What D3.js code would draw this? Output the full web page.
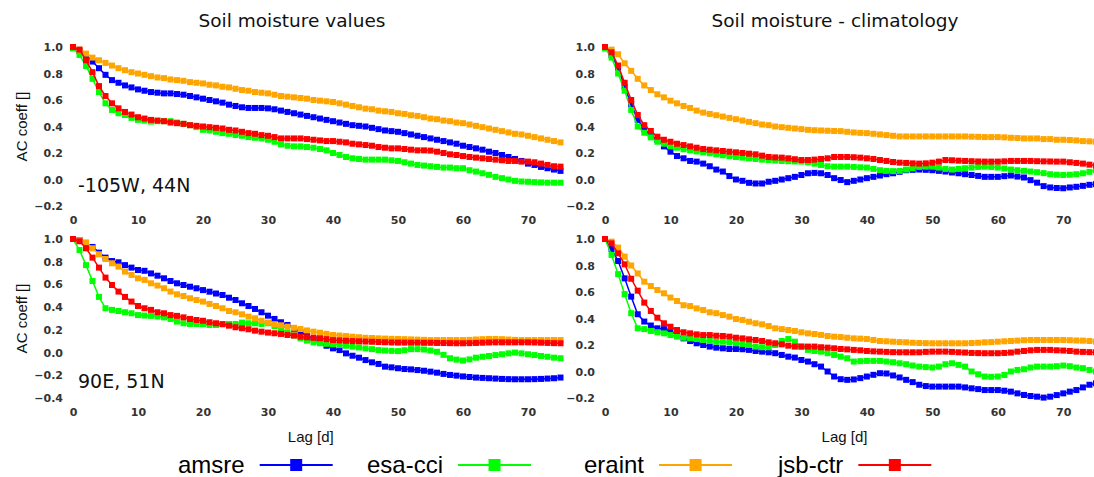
<!DOCTYPE html>
<html><head><meta charset="utf-8">
<script src="https://cdn.jsdelivr.net/npm/d3@7"></script>
<style>body{margin:0;background:#fff}svg{display:block}</style>
</head><body>
<script>
// ---------- DATA ----------
const lags = d3.range(0, 76);
const seriesNames = ["amsre", "esa-cci", "eraint", "jsb-ctr"];
const seriesColors = ["#0000ff", "#00ff00", "#ffa500", "#ff0000"];
const xTicks = [0, 10, 20, 30, 40, 50, 60, 70];
const yTicksTop = [-0.2, 0, 0.2, 0.4, 0.6, 0.8, 1.0];
const yTicksBL = [-0.4, -0.2, 0, 0.2, 0.4, 0.6, 0.8, 1.0];
const colTitles = ["Soil moisture values", "Soil moisture - climatology"];
const rowLabels = ["-105W, 44N", "90E, 51N"];

// Top-left: values, -105W 44N
const tl_amsre = [1.00,0.97,0.94,0.89,0.84,0.79,0.75,0.73,0.71,0.695,
0.68,0.67,0.66,0.655,0.65,0.65,0.645,0.64,0.63,0.62,
0.61,0.60,0.59,0.58,0.565,0.555,0.545,0.54,0.54,0.54,
0.537,0.53,0.52,0.51,0.50,0.49,0.48,0.47,0.46,0.45,
0.44,0.43,0.42,0.41,0.405,0.40,0.39,0.38,0.37,0.365,
0.36,0.35,0.34,0.33,0.32,0.31,0.30,0.29,0.28,0.27,
0.255,0.245,0.235,0.225,0.21,0.20,0.185,0.17,0.155,0.14,
0.12,0.11,0.095,0.085,0.075,0.065];
const tl_esacci = [0.99,0.94,0.857,0.76,0.66,0.575,0.525,0.50,0.487,0.465,
0.45,0.445,0.437,0.44,0.44,0.44,0.43,0.42,0.41,0.395,
0.375,0.37,0.36,0.35,0.345,0.336,0.33,0.32,0.315,0.31,
0.30,0.285,0.265,0.255,0.25,0.25,0.245,0.24,0.23,0.22,
0.20,0.185,0.17,0.16,0.155,0.15,0.15,0.15,0.15,0.145,
0.14,0.13,0.12,0.11,0.105,0.10,0.095,0.09,0.09,0.085,
0.085,0.07,0.06,0.047,0.035,0.02,0.01,0.0,-0.01,-0.015,
-0.017,-0.02,-0.022,-0.024,-0.024,-0.024];
const tl_eraint = [1.00,0.98,0.95,0.92,0.90,0.88,0.86,0.84,0.825,0.81,
0.80,0.79,0.78,0.77,0.765,0.755,0.75,0.745,0.735,0.73,
0.725,0.715,0.71,0.70,0.695,0.685,0.675,0.67,0.66,0.655,
0.65,0.64,0.63,0.625,0.62,0.615,0.61,0.60,0.595,0.59,
0.585,0.575,0.565,0.555,0.545,0.535,0.53,0.52,0.515,0.51,
0.50,0.495,0.485,0.48,0.47,0.46,0.455,0.445,0.44,0.43,
0.425,0.415,0.405,0.395,0.385,0.375,0.365,0.355,0.345,0.34,
0.33,0.32,0.31,0.30,0.29,0.28];
const tl_jsbctr = [1.00,0.98,0.90,0.81,0.705,0.63,0.575,0.537,0.51,0.49,
0.47,0.46,0.45,0.445,0.44,0.43,0.425,0.42,0.41,0.405,
0.40,0.395,0.39,0.385,0.375,0.37,0.36,0.35,0.345,0.335,
0.33,0.32,0.31,0.31,0.31,0.31,0.305,0.30,0.295,0.29,
0.29,0.285,0.28,0.27,0.265,0.26,0.255,0.245,0.24,0.235,
0.235,0.23,0.225,0.22,0.22,0.218,0.21,0.20,0.19,0.185,
0.177,0.17,0.165,0.16,0.155,0.15,0.145,0.14,0.14,0.135,
0.135,0.13,0.12,0.11,0.10,0.097];

// Top-right: climatology anomalies, -105W 44N
const tr_amsre = [1.00,0.94,0.845,0.70,0.57,0.45,0.38,0.33,0.30,0.25,
0.21,0.177,0.16,0.14,0.135,0.12,0.10,0.075,0.06,0.026,
0.00,-0.01,-0.025,-0.03,-0.03,-0.017,-0.01,0.0,0.01,0.02,
0.034,0.047,0.05,0.047,0.034,0.01,-0.004,-0.02,-0.01,0.0,
0.01,0.02,0.03,0.04,0.047,0.058,0.07,0.073,0.075,0.073,
0.07,0.065,0.06,0.053,0.047,0.04,0.034,0.027,0.02,0.02,
0.02,0.025,0.03,0.022,0.015,-0.005,-0.024,-0.05,-0.06,-0.064,
-0.066,-0.06,-0.055,-0.048,-0.04,-0.035];
const tr_esacci = [0.99,0.92,0.80,0.67,0.525,0.40,0.353,0.318,0.285,0.27,
0.25,0.24,0.228,0.22,0.212,0.205,0.198,0.19,0.183,0.176,
0.17,0.165,0.16,0.155,0.15,0.147,0.143,0.14,0.138,0.136,
0.135,0.13,0.12,0.11,0.10,0.097,0.097,0.097,0.095,0.092,
0.09,0.08,0.07,0.065,0.063,0.065,0.075,0.085,0.095,0.097,
0.097,0.09,0.08,0.075,0.08,0.085,0.09,0.095,0.097,0.095,
0.09,0.083,0.075,0.07,0.065,0.06,0.055,0.048,0.04,0.036,
0.034,0.036,0.04,0.047,0.058,0.07];
const tr_eraint = [1.00,0.98,0.945,0.877,0.82,0.76,0.71,0.675,0.643,0.62,
0.595,0.575,0.555,0.54,0.52,0.505,0.495,0.485,0.475,0.465,
0.455,0.445,0.435,0.425,0.415,0.41,0.40,0.395,0.39,0.385,
0.38,0.375,0.372,0.37,0.368,0.366,0.365,0.36,0.355,0.352,
0.35,0.345,0.34,0.335,0.33,0.325,0.325,0.325,0.325,0.325,
0.325,0.325,0.325,0.325,0.325,0.325,0.323,0.322,0.32,0.32,
0.32,0.318,0.315,0.313,0.31,0.31,0.31,0.305,0.305,0.30,
0.30,0.298,0.295,0.29,0.288,0.285];
const tr_jsbctr = [1.00,0.96,0.86,0.73,0.60,0.487,0.41,0.366,0.323,0.30,
0.285,0.27,0.26,0.25,0.24,0.23,0.225,0.22,0.215,0.21,
0.205,0.20,0.195,0.19,0.18,0.17,0.167,0.165,0.16,0.153,
0.147,0.147,0.15,0.155,0.16,0.17,0.17,0.17,0.168,0.165,
0.16,0.155,0.147,0.14,0.132,0.127,0.125,0.122,0.12,0.122,
0.127,0.135,0.147,0.145,0.142,0.14,0.138,0.136,0.135,0.135,
0.135,0.137,0.14,0.14,0.14,0.14,0.138,0.137,0.136,0.135,
0.135,0.13,0.125,0.12,0.112,0.105];

// Bottom-left: values, 90E 51N
const bl_amsre = [1.00,0.99,0.96,0.93,0.88,0.836,0.806,0.795,0.77,0.748,
0.727,0.72,0.697,0.677,0.654,0.63,0.61,0.595,0.58,0.566,
0.55,0.536,0.52,0.507,0.483,0.463,0.434,0.41,0.384,0.355,
0.325,0.296,0.267,0.243,0.21,0.18,0.15,0.12,0.09,0.06,
0.037,0.022,-0.007,-0.028,-0.045,-0.066,-0.086,-0.10,-0.124,-0.13,
-0.138,-0.145,-0.148,-0.154,-0.16,-0.168,-0.177,-0.188,-0.197,-0.203,
-0.21,-0.215,-0.22,-0.223,-0.226,-0.229,-0.232,-0.234,-0.235,-0.235,
-0.235,-0.234,-0.232,-0.229,-0.226,-0.22];
const bl_esacci = [1.00,0.903,0.77,0.63,0.49,0.39,0.376,0.366,0.355,0.346,
0.33,0.326,0.323,0.317,0.31,0.296,0.273,0.258,0.252,0.252,
0.25,0.243,0.243,0.25,0.252,0.252,0.264,0.258,0.258,0.252,
0.258,0.234,0.207,0.178,0.15,0.126,0.105,0.09,0.082,0.077,
0.073,0.066,0.06,0.053,0.045,0.037,0.03,0.022,0.018,0.015,
0.013,0.02,0.03,0.03,0.027,0.018,0.007,-0.02,-0.05,-0.062,
-0.07,-0.06,-0.045,-0.037,-0.03,-0.022,-0.015,-0.007,0.0,-0.007,
-0.015,-0.022,-0.03,-0.037,-0.045,-0.05];
const bl_eraint = [1.00,0.99,0.97,0.918,0.865,0.824,0.786,0.757,0.713,0.684,
0.654,0.64,0.61,0.59,0.566,0.537,0.513,0.498,0.478,0.463,
0.449,0.428,0.41,0.39,0.366,0.355,0.337,0.316,0.302,0.28,
0.264,0.25,0.24,0.228,0.218,0.207,0.195,0.184,0.175,0.165,
0.155,0.15,0.145,0.14,0.135,0.13,0.128,0.125,0.123,0.121,
0.12,0.118,0.116,0.114,0.112,0.11,0.11,0.11,0.11,0.11,
0.11,0.112,0.115,0.118,0.12,0.12,0.118,0.115,0.112,0.11,
0.11,0.11,0.11,0.11,0.11,0.11];
const bl_jsbctr = [1.00,0.98,0.918,0.836,0.748,0.66,0.595,0.537,0.49,0.449,
0.41,0.39,0.376,0.355,0.346,0.33,0.323,0.31,0.296,0.287,
0.28,0.267,0.258,0.25,0.237,0.223,0.214,0.205,0.193,0.184,
0.176,0.17,0.164,0.155,0.15,0.14,0.135,0.13,0.126,0.118,
0.11,0.107,0.104,0.101,0.099,0.097,0.095,0.093,0.091,0.089,
0.088,0.088,0.087,0.087,0.086,0.086,0.085,0.084,0.083,0.082,
0.082,0.083,0.085,0.087,0.089,0.09,0.09,0.09,0.09,0.09,
0.09,0.089,0.087,0.085,0.083,0.082];

// Bottom-right: climatology anomalies, 90E 51N
const br_amsre = [1.00,0.925,0.834,0.703,0.565,0.432,0.377,0.347,0.326,0.32,
0.306,0.275,0.25,0.23,0.213,0.20,0.188,0.18,0.175,0.17,
0.17,0.168,0.163,0.155,0.15,0.145,0.138,0.125,0.112,0.105,
0.087,0.075,0.055,0.037,0.0,-0.038,-0.058,-0.063,-0.06,-0.05,
-0.038,-0.025,-0.013,-0.015,-0.03,-0.045,-0.063,-0.08,-0.10,-0.11,
-0.114,-0.114,-0.114,-0.114,-0.114,-0.12,-0.127,-0.133,-0.14,-0.14,
-0.14,-0.145,-0.152,-0.165,-0.177,-0.185,-0.19,-0.197,-0.19,-0.178,
-0.165,-0.152,-0.14,-0.12,-0.10,-0.089];
const br_esacci = [1.00,0.88,0.735,0.584,0.44,0.326,0.32,0.306,0.296,0.288,
0.275,0.263,0.255,0.25,0.245,0.238,0.23,0.225,0.225,0.218,
0.213,0.208,0.20,0.188,0.183,0.183,0.20,0.23,0.245,0.225,
0.188,0.163,0.155,0.15,0.138,0.125,0.112,0.10,0.075,0.078,
0.08,0.08,0.08,0.075,0.07,0.062,0.055,0.045,0.037,0.033,
0.03,0.037,0.055,0.062,0.05,0.037,0.0,-0.021,-0.038,-0.04,
-0.038,-0.026,0.0,0.012,0.017,0.03,0.037,0.037,0.037,0.04,
0.045,0.04,0.03,0.025,0.012,0.0];
const br_eraint = [1.00,0.98,0.935,0.867,0.80,0.74,0.678,0.645,0.615,0.59,
0.558,0.532,0.50,0.494,0.476,0.464,0.447,0.44,0.426,0.414,
0.396,0.389,0.376,0.364,0.356,0.343,0.326,0.32,0.313,0.306,
0.296,0.288,0.283,0.276,0.268,0.263,0.26,0.255,0.25,0.248,
0.245,0.238,0.23,0.228,0.225,0.222,0.22,0.217,0.215,0.214,
0.213,0.213,0.213,0.213,0.213,0.213,0.215,0.217,0.22,0.222,
0.225,0.228,0.23,0.233,0.236,0.238,0.238,0.238,0.238,0.238,
0.238,0.236,0.234,0.233,0.23,0.225];
const br_jsbctr = [1.00,0.967,0.892,0.809,0.70,0.61,0.52,0.457,0.406,0.364,
0.338,0.313,0.296,0.288,0.28,0.275,0.275,0.27,0.268,0.263,
0.255,0.25,0.243,0.238,0.23,0.22,0.213,0.205,0.195,0.188,
0.188,0.188,0.188,0.183,0.18,0.175,0.17,0.167,0.163,0.16,
0.155,0.152,0.15,0.148,0.146,0.145,0.145,0.145,0.145,0.148,
0.15,0.15,0.15,0.148,0.145,0.143,0.14,0.139,0.138,0.138,
0.138,0.14,0.143,0.15,0.155,0.16,0.163,0.163,0.163,0.16,
0.158,0.155,0.15,0.148,0.146,0.145];

// ---------- LAYOUT ----------
const W = 1094, H = 477;
const svg = d3.select("body").append("svg").attr("width", W).attr("height", H);

const panels = [
  {series:[tl_amsre, tl_esacci, tl_eraint, tl_jsbctr], x:[73,560.5], y:[206,47], dom:[-0.2,1.0], ticks:yTicksTop, col:0, row:0},
  {series:[tr_amsre, tr_esacci, tr_eraint, tr_jsbctr], x:[605,1096], y:[206,47], dom:[-0.2,1.0], ticks:yTicksTop, col:1, row:0},
  {series:[bl_amsre, bl_esacci, bl_eraint, bl_jsbctr], x:[73,560.5], y:[398,239], dom:[-0.4,1.0], ticks:yTicksBL, col:0, row:1},
  {series:[br_amsre, br_esacci, br_eraint, br_jsbctr], x:[605,1096], y:[398,239], dom:[-0.2,1.0], ticks:yTicksTop, col:1, row:1}
];

const tickFont = "'DejaVu Sans', sans-serif";
panels.forEach(p => {
  const x = d3.scaleLinear().domain([0, 75]).range(p.x);
  const y = d3.scaleLinear().domain(p.dom).range(p.y);
  const g = svg.append("g");

  // x axis (labels only)
  const xa = g.append("g").attr("transform", `translate(0,${p.y[0] + 10})`)
    .call(d3.axisBottom(x).tickValues(xTicks).tickSize(0).tickPadding(0).tickFormat(d3.format("d")));
  xa.select(".domain").remove();
  xa.selectAll("text").attr("font-family", tickFont).attr("font-size", 11).attr("font-weight", "bold").attr("fill", "#333");

  // y axis (labels only)
  const ya = g.append("g").attr("transform", `translate(${p.x[0] - 10},0)`)
    .call(d3.axisLeft(y).tickValues(p.ticks).tickSize(0).tickPadding(0).tickFormat(d3.format(".1f")));
  ya.select(".domain").remove();
  ya.selectAll("text").attr("font-family", tickFont).attr("font-size", 11).attr("font-weight", "bold").attr("fill", "#333");

  const line = d3.line().x((d, i) => x(lags[i])).y(d => y(d));
  p.series.forEach((s, si) => {
    const c = seriesColors[si];
    g.append("path").datum(s).attr("d", line).attr("fill", "none")
      .attr("stroke", c).attr("stroke-width", 1.5);
    g.append("g").selectAll("rect").data(s).join("rect")
      .attr("x", (d, i) => x(lags[i]) - 3).attr("y", d => y(d) - 3)
      .attr("width", 6).attr("height", 6).attr("fill", c);
  });

  // y axis title on left column
  if (p.col === 0) {
    const cy = (p.y[0] + p.y[1]) / 2;
    svg.append("text").attr("transform", `translate(27,${cy}) rotate(-90)`)
      .attr("text-anchor", "middle").attr("font-family", "'Liberation Sans', Arial, sans-serif")
      .attr("font-size", 15).attr("fill", "#111").text("AC coeff []");
    svg.append("text").attr("x", 78).attr("y", p.row === 0 ? 192 : 388)
      .attr("font-family", "'DejaVu Sans', sans-serif").attr("font-size", 19)
      .attr("fill", "#111").text(rowLabels[p.row]);
  }
  if (p.row === 0) {
    svg.append("text").attr("x", p.col === 0 ? 292 : 835).attr("y", 27)
      .attr("text-anchor", "middle").attr("font-family", "'DejaVu Sans', sans-serif")
      .attr("font-size", 18.5).attr("fill", "#111").text(colTitles[p.col]);
  } else {
    svg.append("text").attr("x", (p.x[0] + p.x[1]) / 2 - 6).attr("y", 442)
      .attr("text-anchor", "middle").attr("font-family", "'Liberation Sans', Arial, sans-serif")
      .attr("font-size", 15).attr("fill", "#111").text("Lag [d]");
  }
});

// ---------- LEGEND ----------
const legX = [178, 367, 584, 778];
const leg = svg.append("g");
seriesNames.forEach((n, i) => {
  const t = leg.append("text").attr("x", legX[i]).attr("y", 473)
    .attr("font-family", "'Liberation Sans', Arial, sans-serif").attr("font-size", 24)
    .attr("fill", "#000").text(n);
  const tw = t.node().getComputedTextLength();
  const lx0 = legX[i] + tw + 15, lx1 = lx0 + 73;
  leg.append("line").attr("x1", lx0).attr("x2", lx1).attr("y1", 465).attr("y2", 465)
    .attr("stroke", seriesColors[i]).attr("stroke-width", 2);
  leg.append("rect").attr("x", (lx0 + lx1) / 2 - 6).attr("y", 459).attr("width", 12).attr("height", 12)
    .attr("fill", seriesColors[i]);
});
</script>
</body></html>
